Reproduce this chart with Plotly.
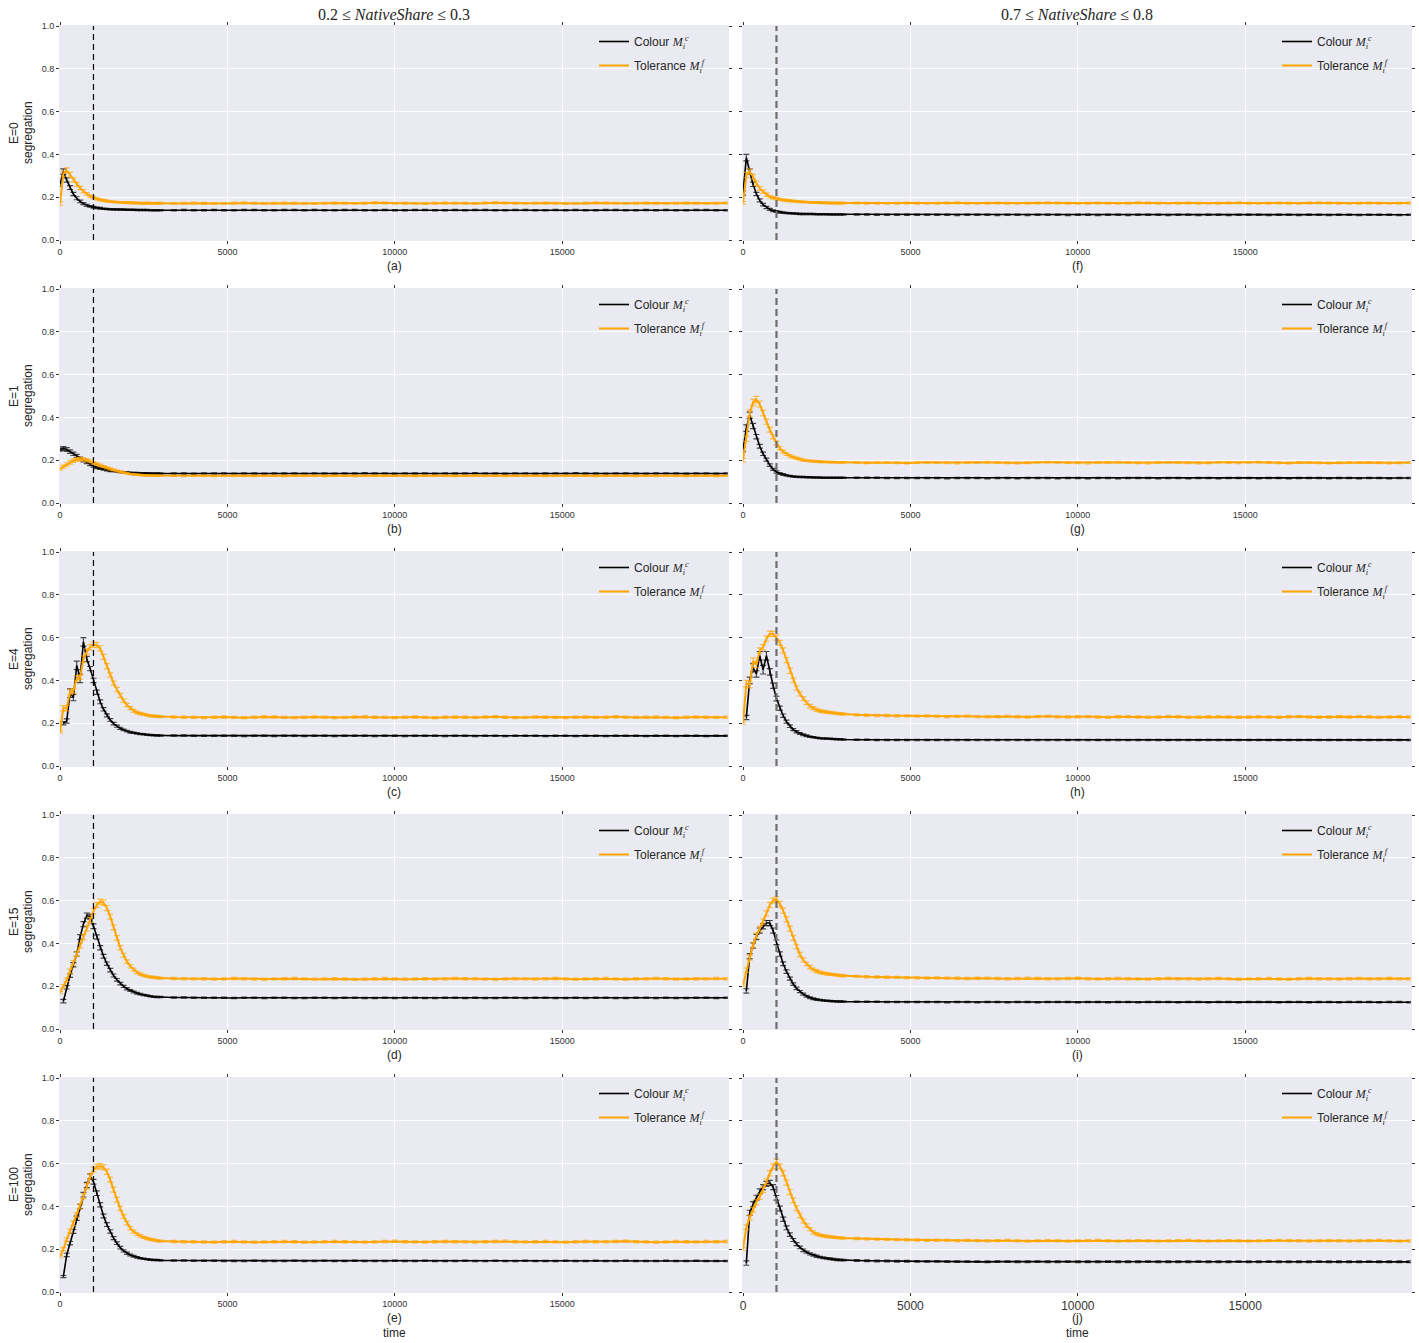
import plotly.graph_objects as go

# Sampling instants: every 100 steps through the transient, every 300 afterwards
time_head = list(range(0, 3100, 100))
time_tail = list(range(3400, 19950, 300))

# ---------------- E=0, 0.2 <= NativeShare <= 0.3  (a) ----------------
a_colour_head = [0.26,
                 0.32, 0.28, 0.245, 0.215, 0.195, 0.18, 0.17, 0.162, 0.157, 0.153,
                 0.15, 0.148, 0.146, 0.145, 0.144, 0.143, 0.143, 0.142, 0.142, 0.141,
                 0.141, 0.141, 0.14, 0.14, 0.14, 0.14, 0.139, 0.139, 0.139, 0.139]
a_colour_tail = [.139, .140, .139, .139, .140, .139, .139, .140,
                 .140, .139, .139, .140, .140, .139, .140, .139,
                 .139, .140, .140, .139, .139, .140, .139, .139,
                 .140, .140, .139, .139, .140, .139, .140, .140,
                 .139, .139, .140, .140, .139, .139, .140, .139,
                 .140, .139, .139, .140, .140, .139, .139, .140,
                 .139, .140, .139, .139, .140, .140, .139, .139]
a_colour_err = [.010,
                .012, .010, .009, .008, .007, .006, .005, .005, .004, .004,
                .004, .004, .003, .003, .003, .003, .003, .003, .003, .003,
                .003, .003, .003, .003, .003, .003, .003, .003, .003, .003]
a_colour_tail_err = 0.003
a_tolerance_head = [0.17,
                    0.31, 0.325, 0.305, 0.28, 0.26, 0.243, 0.228, 0.215, 0.205, 0.198,
                    0.192, 0.188, 0.185, 0.182, 0.18, 0.178, 0.177, 0.176, 0.175, 0.174,
                    0.174, 0.173, 0.173, 0.172, 0.172, 0.173, 0.172, 0.171, 0.172, 0.172]
a_tolerance_tail = [.171, .172, .173, .172, .170, .171, .173, .174,
                    .172, .171, .172, .173, .172, .171, .170, .172,
                    .173, .172, .171, .172, .174, .173, .171, .172,
                    .171, .170, .172, .173, .172, .172, .171, .173,
                    .174, .173, .172, .171, .172, .173, .172, .170,
                    .171, .172, .174, .173, .172, .171, .172, .173,
                    .172, .171, .172, .173, .172, .171, .172, .173]
a_tolerance_err = [.008,
                   .012, .012, .011, .010, .009, .008, .008, .007, .006, .006,
                   .005, .005, .005, .005, .004, .004, .004, .004, .004, .004,
                   .004, .004, .004, .004, .004, .004, .004, .004, .004, .004]
a_tolerance_tail_err = 0.004

# ---------------- E=1, 0.2 <= NativeShare <= 0.3  (b) ----------------
b_colour_head = [0.25,
                 0.255, 0.25, 0.24, 0.23, 0.22, 0.208, 0.198, 0.19, 0.18, 0.172,
                 0.166, 0.161, 0.157, 0.154, 0.151, 0.149, 0.147, 0.145, 0.143, 0.142,
                 0.141, 0.14, 0.14, 0.139, 0.139, 0.139, 0.138, 0.138, 0.138, 0.138]
b_colour_tail = [.138, .138, .137, .138, .138, .138, .137, .138,
                 .138, .137, .138, .138, .138, .137, .138, .138,
                 .137, .138, .138, .139, .138, .138, .137, .138,
                 .138, .138, .137, .138, .138, .138, .139, .138,
                 .138, .137, .138, .138, .137, .138, .138, .138,
                 .139, .138, .138, .137, .138, .138, .138, .137,
                 .138, .138, .138, .137, .138, .138, .137, .138]
b_colour_err = [.008,
                .009, .009, .008, .008, .007, .007, .006, .006, .005, .005,
                .005, .004, .004, .004, .004, .003, .003, .003, .003, .003,
                .003, .003, .003, .003, .003, .003, .003, .003, .003, .003]
b_colour_tail_err = 0.003
b_tolerance_head = [0.16,
                    0.17, 0.18, 0.19, 0.198, 0.203, 0.205, 0.204, 0.2, 0.195, 0.188,
                    0.182, 0.176, 0.17, 0.164, 0.159, 0.154, 0.15, 0.146, 0.142, 0.139,
                    0.136, 0.134, 0.132, 0.131, 0.13, 0.129, 0.128, 0.128, 0.127, 0.127]
b_tolerance_tail = [.127, .126, .127, .127, .126, .127, .128, .127,
                    .126, .127, .127, .126, .127, .128, .127, .126,
                    .127, .127, .126, .127, .127, .128, .127, .127,
                    .126, .127, .127, .127, .126, .127, .128, .127,
                    .127, .126, .127, .127, .127, .126, .127, .127,
                    .128, .127, .126, .127, .127, .127, .126, .127,
                    .127, .128, .127, .126, .127, .127, .126, .127]
b_tolerance_err = [.006,
                   .007, .008, .008, .008, .008, .008, .007, .007, .007, .006,
                   .006, .006, .005, .005, .005, .004, .004, .004, .004, .003,
                   .003, .003, .003, .003, .003, .003, .003, .003, .003, .003]
b_tolerance_tail_err = 0.003

# ---------------- E=4, 0.2 <= NativeShare <= 0.3  (c) ----------------
c_colour_head = [None,
                 0.2, 0.21, 0.34, 0.32, 0.47, 0.41, 0.58, 0.5, 0.455, 0.4,
                 0.345, 0.3, 0.265, 0.237, 0.215, 0.198, 0.186, 0.176, 0.169, 0.163,
                 0.158, 0.155, 0.152, 0.15, 0.148, 0.146, 0.145, 0.144, 0.143, 0.143]
c_colour_tail = [.142, .142, .141, .141, .141, .141, .141, .140,
                 .141, .141, .140, .141, .141, .140, .141, .141,
                 .140, .141, .141, .141, .140, .141, .141, .140,
                 .141, .141, .141, .140, .141, .141, .140, .141,
                 .141, .140, .141, .141, .141, .140, .141, .141,
                 .140, .141, .141, .140, .141, .141, .141, .140,
                 .141, .141, .140, .141, .141, .140, .141, .141]
c_colour_err = [0,
                .008, .010, .020, .015, .020, .020, .020, .012, .010, .010,
                .010, .009, .008, .007, .006, .006, .005, .005, .004, .004,
                .004, .003, .003, .003, .003, .003, .003, .003, .003, .003]
c_colour_tail_err = 0.003
c_tolerance_head = [0.16,
                    0.27, 0.27, 0.345, 0.35, 0.41, 0.415, 0.5, 0.535, 0.555, 0.567,
                    0.565, 0.55, 0.51, 0.466, 0.425, 0.388, 0.357, 0.33, 0.305, 0.285,
                    0.27, 0.258, 0.25, 0.245, 0.241, 0.238, 0.235, 0.233, 0.232, 0.231]
c_tolerance_tail = [.229, .228, .227, .226, .228, .229, .227, .226,
                    .228, .230, .229, .227, .226, .228, .229, .228,
                    .226, .227, .229, .230, .228, .227, .226, .228,
                    .229, .227, .226, .228, .229, .228, .227, .229,
                    .230, .228, .226, .227, .229, .228, .227, .226,
                    .228, .229, .227, .228, .230, .228, .227, .228,
                    .229, .227, .226, .228, .229, .228, .227, .228]
c_tolerance_err = [.005,
                   .012, .012, .012, .012, .012, .010, .015, .012, .012, .012,
                   .012, .012, .012, .012, .010, .010, .010, .009, .008, .008,
                   .007, .007, .006, .006, .005, .005, .005, .005, .005, .005]
c_tolerance_tail_err = 0.005

# ---------------- E=15, 0.2 <= NativeShare <= 0.3  (d) ----------------
d_colour_head = [None,
                 0.13, 0.195, 0.25, 0.3, 0.35, 0.43, 0.49, 0.53, 0.525, 0.48,
                 0.43, 0.38, 0.34, 0.305, 0.275, 0.25, 0.23, 0.212, 0.199, 0.188,
                 0.18, 0.173, 0.167, 0.163, 0.159, 0.156, 0.153, 0.151, 0.15, 0.149]
d_colour_tail = [.147, .147, .146, .146, .146, .146, .145, .146,
                 .146, .145, .146, .146, .145, .145, .146, .146,
                 .145, .146, .146, .145, .145, .146, .145, .146,
                 .146, .145, .145, .146, .146, .145, .146, .145,
                 .145, .146, .146, .145, .146, .146, .145, .145,
                 .146, .145, .146, .146, .145, .145, .146, .146,
                 .145, .146, .145, .145, .146, .146, .145, .146]
d_colour_err = [0,
                .008, .008, .009, .010, .010, .011, .012, .012, .012, .011,
                .010, .010, .009, .008, .008, .007, .006, .006, .005, .005,
                .004, .004, .004, .004, .003, .003, .003, .003, .003, .003]
d_colour_tail_err = 0.003
d_tolerance_head = [0.17,
                    0.2, 0.23, 0.27, 0.31, 0.35, 0.39, 0.43, 0.47, 0.51, 0.55,
                    0.58, 0.595, 0.59, 0.565, 0.525, 0.475, 0.425, 0.38, 0.345, 0.315,
                    0.293, 0.277, 0.265, 0.256, 0.25, 0.246, 0.243, 0.241, 0.239, 0.238]
d_tolerance_tail = [.236, .235, .234, .235, .233, .234, .236, .235,
                    .233, .232, .234, .235, .236, .234, .233, .234,
                    .235, .234, .232, .233, .235, .236, .234, .233,
                    .234, .235, .233, .234, .236, .235, .234, .233,
                    .232, .234, .235, .234, .233, .235, .236, .234,
                    .233, .234, .235, .236, .234, .233, .235, .234,
                    .236, .235, .233, .234, .235, .234, .236, .235]
d_tolerance_err = [.006,
                   .008, .009, .010, .010, .011, .011, .012, .012, .012, .012,
                   .012, .012, .012, .012, .012, .011, .011, .010, .009, .008,
                   .008, .007, .006, .006, .005, .005, .005, .005, .005, .005]
d_tolerance_tail_err = 0.005

# ---------------- E=100, 0.2 <= NativeShare <= 0.3  (e) ----------------
e_colour_head = [None,
                 0.072, 0.173, 0.228, 0.283, 0.345, 0.4, 0.455, 0.5, 0.54, 0.515,
                 0.462, 0.408, 0.355, 0.315, 0.283, 0.252, 0.228, 0.207, 0.192, 0.181,
                 0.173, 0.167, 0.162, 0.158, 0.155, 0.153, 0.151, 0.15, 0.149, 0.148]
e_colour_tail = [.147, .147, .146, .146, .146, .145, .145, .145,
                 .146, .145, .145, .145, .146, .145, .145, .146,
                 .145, .145, .146, .145, .145, .145, .146, .145,
                 .145, .146, .145, .145, .145, .146, .145, .145,
                 .146, .145, .145, .146, .145, .145, .145, .146,
                 .145, .145, .146, .145, .145, .146, .145, .145,
                 .145, .146, .145, .145, .146, .145, .145, .145]
e_colour_err = [0,
                .005, .008, .008, .009, .010, .010, .011, .012, .012, .011,
                .011, .010, .009, .009, .008, .007, .006, .006, .005, .005,
                .004, .004, .004, .003, .003, .003, .003, .003, .003, .003]
e_colour_tail_err = 0.003
e_tolerance_head = [0.166,
                    0.2, 0.245, 0.285, 0.32, 0.36, 0.4, 0.447, 0.494, 0.54, 0.572,
                    0.585, 0.588, 0.582, 0.562, 0.525, 0.478, 0.431, 0.39, 0.353, 0.322,
                    0.298, 0.282, 0.27, 0.262, 0.255, 0.25, 0.246, 0.243, 0.24, 0.238]
e_tolerance_tail = [.236, .235, .235, .234, .233, .235, .236, .234,
                    .233, .234, .235, .236, .235, .233, .234, .235,
                    .236, .235, .234, .233, .234, .236, .237, .235,
                    .234, .233, .235, .236, .235, .234, .233, .235,
                    .236, .237, .235, .234, .235, .236, .234, .233,
                    .235, .236, .235, .234, .236, .237, .235, .234,
                    .233, .234, .236, .235, .234, .236, .235, .236]
e_tolerance_err = [.006,
                   .007, .008, .009, .010, .010, .011, .011, .012, .012, .012,
                   .012, .012, .012, .012, .012, .011, .011, .010, .009, .008,
                   .008, .007, .006, .006, .005, .005, .005, .005, .005, .005]
e_tolerance_tail_err = 0.005

# ---------------- E=0, 0.7 <= NativeShare <= 0.8  (f) ----------------
f_colour_head = [0.22,
                 0.385, 0.32, 0.26, 0.215, 0.185, 0.165, 0.152, 0.143, 0.137, 0.133,
                 0.13, 0.128, 0.126, 0.125, 0.124, 0.123, 0.122, 0.122, 0.121, 0.121,
                 0.121, 0.12, 0.12, 0.12, 0.12, 0.119, 0.119, 0.119, 0.119, 0.119]
f_colour_tail = [.119, .119, .118, .118, .118, .118, .118, .118,
                 .118, .118, .117, .118, .118, .118, .117, .118,
                 .118, .117, .118, .118, .118, .117, .118, .118,
                 .117, .118, .118, .117, .118, .118, .118, .117,
                 .118, .118, .117, .118, .118, .117, .118, .118,
                 .118, .117, .118, .118, .117, .118, .118, .117,
                 .118, .118, .117, .118, .118, .118, .117, .118]
f_colour_err = [.010,
                .015, .012, .010, .008, .007, .006, .005, .005, .004, .004,
                .004, .003, .003, .003, .003, .003, .003, .003, .003, .003,
                .003, .003, .003, .003, .003, .003, .003, .003, .003, .003]
f_colour_tail_err = 0.003
f_tolerance_head = [0.174,
                    0.304, 0.32, 0.296, 0.265, 0.241, 0.226, 0.212, 0.202, 0.197, 0.193,
                    0.19, 0.187, 0.185, 0.183, 0.182, 0.18, 0.179, 0.178, 0.177, 0.176,
                    0.175, 0.175, 0.174, 0.174, 0.174, 0.173, 0.173, 0.173, 0.172, 0.173]
f_tolerance_tail = [.173, .172, .172, .171, .172, .173, .172, .171,
                    .172, .173, .174, .172, .171, .172, .173, .172,
                    .171, .172, .173, .174, .173, .172, .171, .172,
                    .173, .172, .171, .172, .174, .173, .172, .171,
                    .172, .173, .172, .171, .172, .173, .174, .172,
                    .171, .172, .173, .172, .171, .173, .174, .173,
                    .172, .171, .172, .173, .172, .171, .172, .173]
f_tolerance_err = [.006,
                   .012, .012, .011, .010, .009, .008, .008, .007, .006, .006,
                   .005, .005, .005, .005, .004, .004, .004, .004, .004, .004,
                   .004, .004, .004, .004, .004, .004, .004, .004, .004, .004]
f_tolerance_tail_err = 0.004

# ---------------- E=1, 0.7 <= NativeShare <= 0.8  (g) ----------------
g_colour_head = [0.25,
                 0.35, 0.41, 0.36, 0.31, 0.265, 0.23, 0.203, 0.177, 0.157, 0.145,
                 0.138, 0.133, 0.129, 0.126, 0.124, 0.123, 0.122, 0.121, 0.12, 0.12,
                 0.119, 0.119, 0.119, 0.118, 0.118, 0.118, 0.118, 0.118, 0.118, 0.118]
g_colour_tail = [.118, .118, .118, .117, .117, .117, .117, .117,
                 .117, .116, .117, .117, .117, .116, .117, .117,
                 .116, .117, .117, .117, .116, .117, .117, .116,
                 .117, .117, .116, .117, .117, .117, .116, .117,
                 .117, .116, .117, .117, .116, .117, .117, .117,
                 .116, .117, .117, .116, .117, .117, .117, .116,
                 .117, .117, .116, .117, .117, .116, .117, .117]
g_colour_err = [.010,
                .015, .015, .012, .010, .009, .008, .007, .006, .005, .005,
                .004, .004, .003, .003, .003, .003, .003, .003, .003, .003,
                .003, .003, .003, .003, .003, .003, .003, .003, .003, .003]
g_colour_tail_err = 0.003
g_tolerance_head = [0.2,
                    0.3, 0.42, 0.47, 0.483, 0.462, 0.42, 0.38, 0.342, 0.31, 0.28,
                    0.256, 0.24, 0.228, 0.22, 0.214, 0.209, 0.205, 0.2, 0.198, 0.196,
                    0.195, 0.194, 0.193, 0.192, 0.192, 0.191, 0.191, 0.19, 0.19, 0.19]
g_tolerance_tail = [.189, .188, .189, .190, .188, .187, .189, .190,
                    .189, .188, .187, .189, .190, .191, .189, .188,
                    .187, .188, .190, .191, .190, .189, .188, .187,
                    .189, .190, .191, .189, .188, .187, .189, .190,
                    .189, .188, .187, .188, .190, .189, .188, .190,
                    .191, .189, .188, .187, .189, .190, .188, .187,
                    .188, .189, .190, .189, .188, .187, .188, .189]
g_tolerance_err = [.008,
                   .012, .015, .015, .015, .014, .013, .012, .011, .010, .009,
                   .008, .007, .006, .006, .005, .005, .005, .005, .004, .004,
                   .004, .004, .004, .004, .004, .004, .004, .004, .004, .004]
g_tolerance_tail_err = 0.004

# ---------------- E=4, 0.7 <= NativeShare <= 0.8  (h) ----------------
h_colour_head = [None,
                 0.227, 0.4, 0.46, 0.43, 0.515, 0.45, 0.515, 0.44, 0.375, 0.315,
                 0.27, 0.235, 0.207, 0.186, 0.17, 0.16, 0.152, 0.146, 0.141, 0.137,
                 0.134, 0.132, 0.13, 0.129, 0.128, 0.127, 0.126, 0.125, 0.125, 0.124]
h_colour_tail = [.123, .123, .122, .122, .122, .122, .121, .122,
                 .122, .121, .121, .122, .121, .121, .122, .121,
                 .121, .122, .121, .121, .121, .122, .121, .121,
                 .122, .121, .121, .122, .121, .121, .121, .122,
                 .121, .121, .122, .121, .121, .122, .121, .121,
                 .121, .122, .121, .121, .122, .121, .121, .121,
                 .122, .121, .121, .121, .122, .121, .121, .122]
h_colour_err = [0,
                .010, .015, .020, .015, .020, .020, .020, .015, .012, .011,
                .010, .008, .007, .006, .005, .005, .004, .004, .004, .003,
                .003, .003, .003, .003, .003, .003, .003, .003, .003, .003]
h_colour_tail_err = 0.003
h_tolerance_head = [0.2,
                    0.385, 0.38, 0.49, 0.475, 0.54, 0.555, 0.595, 0.618, 0.617, 0.6,
                    0.575, 0.54, 0.495, 0.445, 0.4, 0.365, 0.337, 0.315, 0.295, 0.28,
                    0.27, 0.262, 0.257, 0.254, 0.252, 0.25, 0.248, 0.246, 0.244, 0.243]
h_tolerance_tail = [.239, .237, .236, .236, .235, .234, .233, .234,
                    .232, .231, .232, .233, .231, .230, .231, .232,
                    .230, .229, .231, .232, .230, .229, .230, .231,
                    .229, .228, .230, .231, .229, .228, .229, .231,
                    .230, .228, .229, .230, .231, .229, .228, .229,
                    .230, .229, .228, .230, .231, .229, .228, .229,
                    .230, .229, .231, .230, .228, .229, .230, .229]
h_tolerance_err = [.005,
                   .015, .015, .015, .015, .012, .012, .012, .012, .012, .012,
                   .012, .012, .012, .012, .011, .010, .010, .009, .008, .008,
                   .007, .007, .006, .006, .006, .005, .005, .005, .005, .005]
h_tolerance_tail_err = 0.005

# ---------------- E=15, 0.7 <= NativeShare <= 0.8  (i) ----------------
i_colour_head = [None,
                 0.178, 0.34, 0.39, 0.43, 0.46, 0.48, 0.495, 0.495, 0.46, 0.405,
                 0.35, 0.305, 0.268, 0.235, 0.21, 0.19, 0.175, 0.163, 0.153, 0.146,
                 0.141, 0.138, 0.135, 0.133, 0.132, 0.131, 0.13, 0.129, 0.128, 0.128]
i_colour_tail = [.127, .127, .127, .126, .126, .126, .126, .126,
                 .126, .125, .126, .126, .125, .126, .126, .125,
                 .126, .126, .125, .126, .126, .126, .125, .126,
                 .126, .125, .126, .126, .125, .126, .126, .126,
                 .125, .126, .126, .125, .126, .126, .125, .126,
                 .126, .126, .125, .126, .126, .125, .126, .126,
                 .125, .126, .126, .126, .125, .126, .126, .125]
i_colour_err = [0,
                .010, .012, .012, .012, .012, .012, .012, .012, .012, .011,
                .010, .009, .008, .007, .006, .006, .005, .005, .004, .004,
                .004, .004, .003, .003, .003, .003, .003, .003, .003, .003]
i_colour_tail_err = 0.003
i_tolerance_head = [0.205,
                    0.275, 0.333, 0.392, 0.436, 0.469, 0.502, 0.54, 0.58, 0.6, 0.606,
                    0.584, 0.553, 0.513, 0.469, 0.425, 0.385, 0.348, 0.322, 0.304, 0.289,
                    0.278, 0.27, 0.265, 0.261, 0.258, 0.256, 0.254, 0.252, 0.25, 0.249]
i_tolerance_tail = [.246, .244, .243, .242, .241, .240, .239, .238,
                    .239, .238, .237, .236, .237, .238, .236, .235,
                    .236, .237, .236, .235, .234, .236, .237, .235,
                    .234, .235, .236, .235, .234, .233, .235, .236,
                    .235, .234, .233, .235, .236, .234, .233, .234,
                    .235, .236, .234, .233, .235, .236, .235, .234,
                    .233, .235, .236, .234, .235, .236, .234, .235]
i_tolerance_err = [.006,
                   .010, .011, .011, .012, .012, .012, .012, .012, .012, .012,
                   .012, .012, .012, .012, .011, .011, .010, .009, .008, .008,
                   .007, .007, .006, .006, .006, .005, .005, .005, .005, .005]
i_tolerance_tail_err = 0.005

# ---------------- E=100, 0.7 <= NativeShare <= 0.8  (j) ----------------
j_colour_head = [None,
                 0.135, 0.37, 0.41, 0.44, 0.47, 0.49, 0.505, 0.51, 0.49, 0.44,
                 0.39, 0.34, 0.3, 0.268, 0.243, 0.224, 0.208, 0.195, 0.186, 0.178,
                 0.172, 0.167, 0.163, 0.16, 0.157, 0.155, 0.153, 0.151, 0.15, 0.149]
j_colour_tail = [.147, .146, .145, .145, .144, .144, .143, .143,
                 .143, .142, .142, .142, .142, .141, .142, .142,
                 .141, .141, .142, .141, .141, .142, .141, .141,
                 .141, .142, .141, .141, .141, .142, .141, .141,
                 .141, .141, .142, .141, .141, .141, .142, .141,
                 .141, .142, .141, .141, .141, .141, .142, .141,
                 .141, .141, .141, .142, .141, .141, .141, .141]
j_colour_err = [0,
                .010, .012, .012, .012, .012, .012, .012, .012, .012, .011,
                .011, .010, .009, .008, .007, .007, .006, .006, .005, .005,
                .005, .005, .004, .004, .004, .004, .004, .004, .004, .004]
j_colour_tail_err = 0.004
j_tolerance_head = [0.2,
                    0.303, 0.347, 0.384, 0.419, 0.445, 0.478, 0.515, 0.555, 0.587, 0.609,
                    0.587, 0.555, 0.511, 0.467, 0.428, 0.391, 0.358, 0.332, 0.31, 0.293,
                    0.279, 0.271, 0.266, 0.262, 0.26, 0.258, 0.256, 0.254, 0.253, 0.252]
j_tolerance_tail = [.250, .248, .247, .246, .245, .244, .243, .242,
                    .242, .241, .240, .241, .240, .239, .240, .241,
                    .239, .238, .239, .240, .239, .238, .239, .240,
                    .241, .239, .238, .239, .240, .239, .238, .239,
                    .240, .241, .239, .238, .239, .240, .239, .238,
                    .239, .240, .241, .240, .239, .238, .239, .240,
                    .239, .238, .239, .240, .241, .239, .238, .239]
j_tolerance_err = [.006,
                   .010, .011, .011, .012, .012, .012, .012, .012, .012, .012,
                   .012, .012, .012, .012, .011, .011, .010, .009, .008, .008,
                   .007, .007, .006, .006, .006, .005, .005, .005, .005, .005]
j_tolerance_tail_err = 0.005

# Panel labels, row labels, column headings and tick labels
panel_labels = ["(a)", "(b)", "(c)", "(d)", "(e)", "(f)", "(g)", "(h)", "(i)", "(j)"]
row_labels = ["E=0", "E=1", "E=4", "E=15", "E=100"]
column_titles = ["0.2 ≤ <i>NativeShare</i> ≤ 0.3", "0.7 ≤ <i>NativeShare</i> ≤ 0.8"]
x_tick_values = [0, 5000, 10000, 15000]
x_tick_text = ["0", "5000", "10000", "15000"]
y_tick_values = [0.0, 0.2, 0.4, 0.6, 0.8, 1.0]
y_tick_text = ["0.0", "0.2", "0.4", "0.6", "0.8", "1.0"]
switch_time = 1000
series_names = ["Colour <span style=\"font-family:'Liberation Serif'\"><i>M</i><sub><i>i</i></sub><sup><i>c</i></sup></span>",
                "Tolerance <span style=\"font-family:'Liberation Serif'\"><i>M</i><sub><i>i</i></sub><sup><i>f</i></sup></span>"]

panel_series = [
    [(a_colour_head, a_colour_tail, a_colour_err, a_colour_tail_err),
     (a_tolerance_head, a_tolerance_tail, a_tolerance_err, a_tolerance_tail_err)],
    [(b_colour_head, b_colour_tail, b_colour_err, b_colour_tail_err),
     (b_tolerance_head, b_tolerance_tail, b_tolerance_err, b_tolerance_tail_err)],
    [(c_colour_head, c_colour_tail, c_colour_err, c_colour_tail_err),
     (c_tolerance_head, c_tolerance_tail, c_tolerance_err, c_tolerance_tail_err)],
    [(d_colour_head, d_colour_tail, d_colour_err, d_colour_tail_err),
     (d_tolerance_head, d_tolerance_tail, d_tolerance_err, d_tolerance_tail_err)],
    [(e_colour_head, e_colour_tail, e_colour_err, e_colour_tail_err),
     (e_tolerance_head, e_tolerance_tail, e_tolerance_err, e_tolerance_tail_err)],
    [(f_colour_head, f_colour_tail, f_colour_err, f_colour_tail_err),
     (f_tolerance_head, f_tolerance_tail, f_tolerance_err, f_tolerance_tail_err)],
    [(g_colour_head, g_colour_tail, g_colour_err, g_colour_tail_err),
     (g_tolerance_head, g_tolerance_tail, g_tolerance_err, g_tolerance_tail_err)],
    [(h_colour_head, h_colour_tail, h_colour_err, h_colour_tail_err),
     (h_tolerance_head, h_tolerance_tail, h_tolerance_err, h_tolerance_tail_err)],
    [(i_colour_head, i_colour_tail, i_colour_err, i_colour_tail_err),
     (i_tolerance_head, i_tolerance_tail, i_tolerance_err, i_tolerance_tail_err)],
    [(j_colour_head, j_colour_tail, j_colour_err, j_colour_tail_err),
     (j_tolerance_head, j_tolerance_tail, j_tolerance_err, j_tolerance_tail_err)],
]

# ---------------- styling / geometry ----------------
W, H = 1419, 1343
SANS = "Liberation Sans, Arial, sans-serif"
SERIF = "Liberation Serif, DejaVu Serif, serif"
BG = "#EAEAF2"
line_colors = ["#000000", "#FFA500"]
err_colors = ["rgba(0,0,0,0.7)", "rgba(255,165,0,0.7)"]
line_widths = [1.6, 2.0]
col_left = [60, 743]
col_width = 668
row_top = [26, 289, 552, 815, 1078]
row_height = 214


def px_x(p):
    return p / W


def px_y(p):
    return 1 - p / H


fig = go.Figure()
layout = dict(
    width=W, height=H,
    margin=dict(l=0, r=0, t=0, b=0),
    paper_bgcolor="white", plot_bgcolor=BG,
    font=dict(family=SANS, color="#262626"),
    showlegend=True,
)
shapes, annotations = [], []

for k in range(10):
    col, row = k // 5, k % 5
    n = k + 1
    xs = "" if n == 1 else str(n)
    xref, yref = "x" + xs, "y" + xs
    legend_name = "legend" + xs

    x0, x1 = col_left[col], col_left[col] + col_width
    y0, y1 = row_top[row], row_top[row] + row_height

    bottom_right = (col == 1 and row == 4)
    layout["xaxis" + xs] = dict(
        domain=[px_x(x0), px_x(x1)], anchor=yref, range=[0, 19950],
        tickvals=x_tick_values, ticktext=x_tick_text,
        tickfont=dict(size=12 if bottom_right else 9, color="#333333"),
        showgrid=True, gridcolor="white", gridwidth=1, zeroline=False,
        ticks="outside", ticklen=3, tickcolor="#333333",
        showline=True, linecolor=BG, linewidth=1, mirror="ticks",
        automargin=False, fixedrange=True,
    )
    layout["yaxis" + xs] = dict(
        domain=[px_y(y1), px_y(y0)], anchor=xref, range=[0, 1],
        tickvals=y_tick_values, ticktext=y_tick_text,
        showticklabels=(col == 0),
        tickfont=dict(size=9, color="#333333"),
        showgrid=True, gridcolor="white", gridwidth=1, zeroline=False,
        ticks="outside", ticklen=3, tickcolor="#333333",
        showline=True, linecolor=BG, linewidth=1, mirror="ticks",
        automargin=False, fixedrange=True,
    )

    for s, (head, tail, err, tail_err) in enumerate(panel_series[k]):
        fig.add_trace(go.Scatter(
            x=time_head + time_tail, y=head + tail, mode="lines",
            line=dict(color=line_colors[s], width=line_widths[s]),
            name=series_names[s], legend=legend_name, legendgroup=f"{k}-{s}",
            xaxis=xref, yaxis=yref, hoverinfo="skip",
        ))
        fig.add_trace(go.Scatter(
            x=time_head, y=head, mode="markers",
            marker=dict(size=1, color="rgba(0,0,0,0)"),
            error_y=dict(type="data", array=err, color=err_colors[s], thickness=1.2, width=3),
            showlegend=False, xaxis=xref, yaxis=yref, hoverinfo="skip",
        ))
        fig.add_trace(go.Scatter(
            x=time_tail, y=tail, mode="markers",
            marker=dict(size=1, color="rgba(0,0,0,0)"),
            error_y=dict(type="constant", value=tail_err, color=err_colors[s], thickness=1.2, width=3),
            showlegend=False, xaxis=xref, yaxis=yref, hoverinfo="skip",
        ))

    layout[legend_name] = dict(
        x=px_x(x0 + 534), y=px_y(y0 + 1), xanchor="left", yanchor="top",
        bgcolor="rgba(0,0,0,0)", borderwidth=0,
        font=dict(family=SANS, size=12, color="#262626"),
        traceorder="grouped", tracegroupgap=5, itemwidth=30,
    )

    # switch time marker
    shapes.append(dict(
        type="line", xref=xref, yref=yref + " domain",
        x0=switch_time, x1=switch_time, y0=0, y1=1,
        line=dict(color="#000000" if col == 0 else "#6e6e6e",
                  width=1.2 if col == 0 else 2.2,
                  dash="6px,4px" if col == 0 else "7px,4px"),
        layer="above",
    ))

    cx = (x0 + x1) / 2
    annotations.append(dict(
        text=panel_labels[k], x=px_x(cx), y=px_y(y1 + 26), xref="paper", yref="paper",
        showarrow=False, xanchor="center", yanchor="middle",
        font=dict(family=SANS, size=12, color="#262626"),
    ))
    if row == 4:
        annotations.append(dict(
            text="time", x=px_x(cx), y=px_y(y1 + 41), xref="paper", yref="paper",
            showarrow=False, xanchor="center", yanchor="middle",
            font=dict(family=SANS, size=12, color="#262626"),
        ))
    if col == 0:
        cy = (y0 + y1) / 2
        annotations.append(dict(
            text=row_labels[row], x=px_x(14), y=px_y(cy), xref="paper", yref="paper",
            showarrow=False, textangle=-90, xanchor="center", yanchor="middle",
            font=dict(family=SANS, size=12, color="#262626"),
        ))
        annotations.append(dict(
            text="segregation", x=px_x(28), y=px_y(cy), xref="paper", yref="paper",
            showarrow=False, textangle=-90, xanchor="center", yanchor="middle",
            font=dict(family=SANS, size=12, color="#262626"),
        ))

for c in range(2):
    annotations.append(dict(
        text=column_titles[c], x=px_x(col_left[c] + col_width / 2), y=px_y(14),
        xref="paper", yref="paper", showarrow=False,
        xanchor="center", yanchor="middle",
        font=dict(family=SERIF, size=16, color="#262626"),
    ))

layout["shapes"] = shapes
layout["annotations"] = annotations
fig.update_layout(**layout)
fig.write_html("out.html")
